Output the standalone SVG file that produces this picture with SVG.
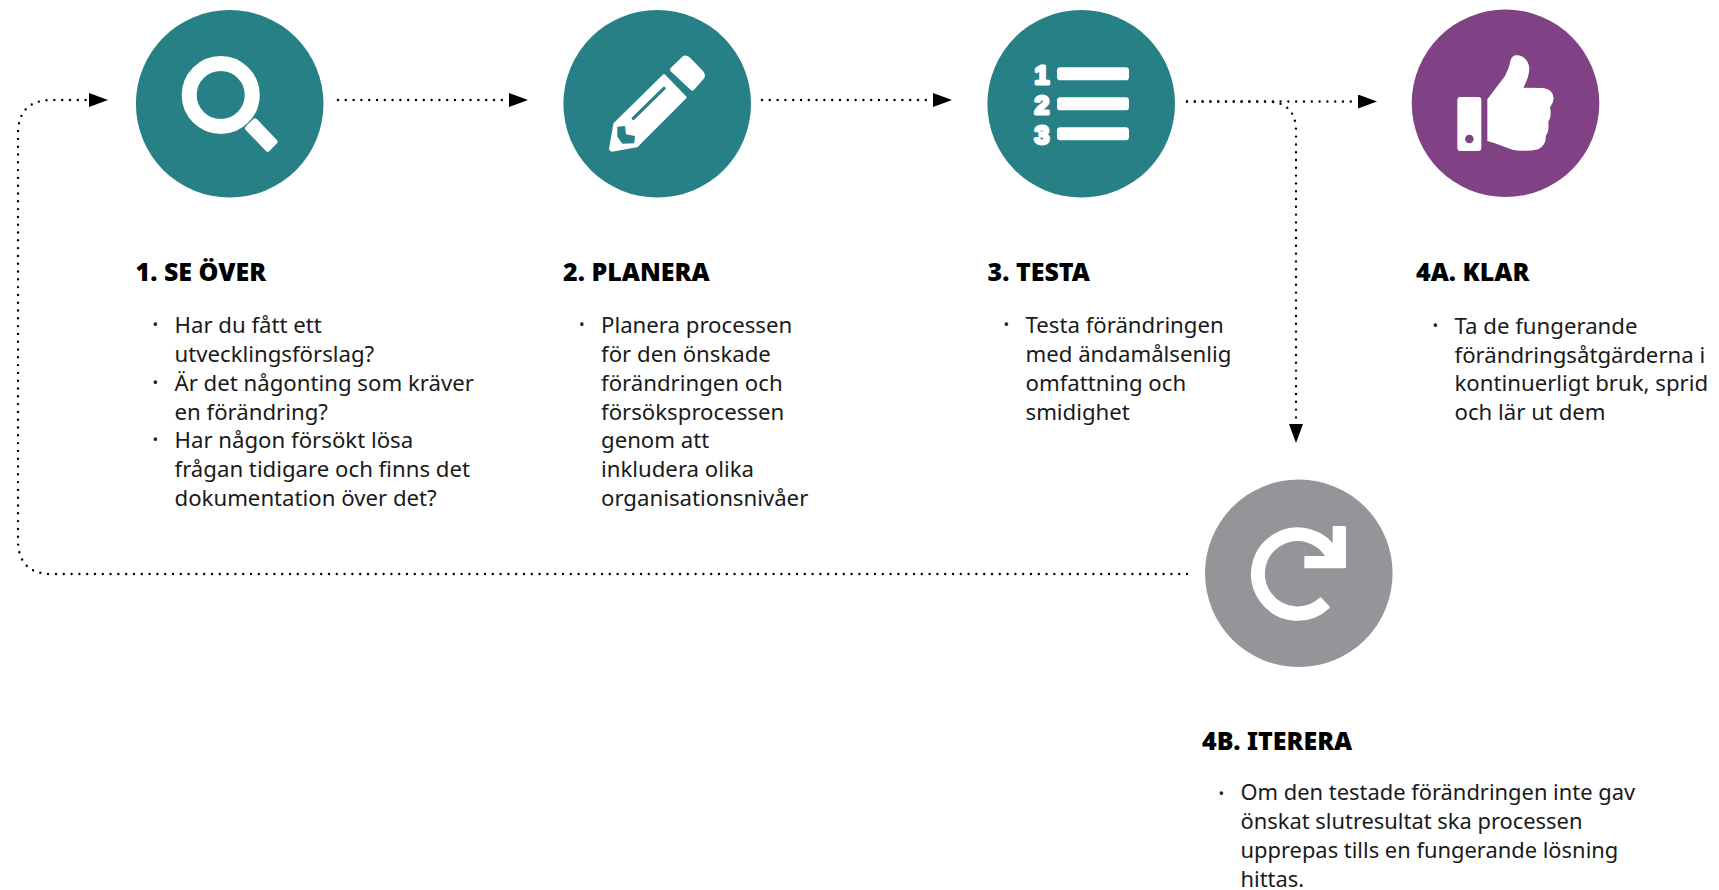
<svg xmlns="http://www.w3.org/2000/svg" width="1719" height="890" viewBox="0 0 1719 890">
<style>
.h{font:900 25px "Noto Sans","Open Sans",sans-serif;fill:#000}
.b{font:400 22.2px "Noto Sans","Open Sans",sans-serif;fill:#1a1a1a}
.s{font-size:21.9px}
.d{font:400 15px "Noto Sans",sans-serif;fill:#1a1a1a}
.c{fill:none;stroke:#000;stroke-width:2.4;stroke-linecap:round;stroke-dasharray:0 7.8}
.w{fill:#fff}
.n{fill:#fff;stroke:#fff;stroke-width:9;stroke-linejoin:round;font-family:"Liberation Sans",sans-serif;font-weight:700;font-size:80px;text-anchor:middle}
.t{fill:#268085}.p{fill:#804185}.g{fill:#939598}
</style>
<defs>
<marker id="a" markerUnits="userSpaceOnUse" markerWidth="20" markerHeight="16" refX="0" refY="7" orient="auto"><path d="M0 0L19 7L0 14Z" fill="#000"/></marker>
</defs>
<rect width="1719" height="890" fill="#fff"/>
<g id="connectors">
<path class="c" marker-end="url(#a)" d="M338 100H509"/>
<path class="c" marker-end="url(#a)" d="M762 100H933"/>
<path class="c" marker-end="url(#a)" d="M1187 101.500H1358"/>
<path class="c" marker-end="url(#a)" d="M1187 101.500H1266Q1296 101.500 1296 131V424"/>
<path class="c" marker-end="url(#a)" d="M1187 574H52Q18 574 18 540V134Q18 100 52 100H89"/>
</g>
<g id="n1">
<circle class="t" cx="229.7" cy="103.8" r="93.8"/>
<circle cx="220.7" cy="95" r="31.5" fill="none" stroke="#fff" stroke-width="15"/>
<path class="w" stroke="#fff" stroke-width="5" stroke-linejoin="round" d="M247.5 128.3L255 120.8L275 141.7L267.7 149.2Z"/>
<text class="h" x="135.500" y="280.7">1. SE ÖVER</text>
<text class="d" x="152.500" y="330">•</text>
<text class="b" x="174.500" y="333.300">Har du fått ett</text>
<text class="b" x="174.500" y="362.100">utvecklingsförslag?</text>
<text class="d" x="152.500" y="388">•</text>
<text class="b" x="174.500" y="390.800">Är det någonting som kräver</text>
<text class="b" x="174.500" y="419.600">en förändring?</text>
<text class="d" x="152.500" y="445">•</text>
<text class="b" x="174.500" y="448.400">Har någon försökt lösa</text>
<text class="b" x="174.500" y="477.200">frågan tidigare och finns det</text>
<text class="b" x="174.500" y="506">dokumentation över det?</text>
</g>
<g id="n2">
<circle class="t" cx="657.200" cy="103.8" r="93.8"/>
<g transform="translate(540 0) scale(.33333)">
<path class="w" stroke="#fff" stroke-width="8" stroke-linejoin="round" d="M372 226L436 292L290 438L215 451L211 447L224 372Z"/>
<path class="w" stroke="#fff" stroke-width="14" stroke-linejoin="round" d="M397 209L432 175Q437 172 444 177L484 218Q490 225 486 232L457 265Z"/>
<path d="M280 355L372 265" stroke="#268085" stroke-width="10" stroke-linecap="round" fill="none"/>
<path class="t" d="M232 380L255 378L258 403L285 408L283 430L247 431L232 410Z"/>
</g>
<text class="h" x="563" y="280.7">2. PLANERA</text>
<text class="d" x="579" y="330">•</text>
<text class="b" x="601" y="333.300">Planera processen</text>
<text class="b" x="601" y="362.100">för den önskade</text>
<text class="b" x="601" y="390.800">förändringen och</text>
<text class="b" x="601" y="419.600">försöksprocessen</text>
<text class="b" x="601" y="448.400">genom att</text>
<text class="b" x="601" y="477.200">inkludera olika</text>
<text class="b" x="601" y="506">organisationsnivåer</text>
</g>
<g id="n3">
<circle class="t" cx="1081.200" cy="103.8" r="93.8"/>
<g transform="translate(960 0) scale(.33333)">
<rect class="w" x="291" y="202" width="216" height="39" rx="10"/>
<rect class="w" x="291" y="292" width="216" height="39" rx="10"/>
<rect class="w" x="291" y="382" width="216" height="39" rx="10"/>
<text class="n" x="246" y="251">1</text>
<text class="n" x="246" y="341">2</text>
<text class="n" x="246" y="432">3</text>
</g>
<text class="h" x="987.500" y="280.7">3. TESTA</text>
<text class="d" x="1003.500" y="330">•</text>
<text class="b" x="1025.500" y="333.300">Testa förändringen</text>
<text class="b" x="1025.500" y="362.100">med ändamålsenlig</text>
<text class="b" x="1025.500" y="390.800">omfattning och</text>
<text class="b" x="1025.500" y="419.600">smidighet</text>
</g>
<g id="n4a">
<circle class="p" cx="1505.500" cy="103.300" r="93.8"/>
<g transform="translate(1380 0) scale(.33333)">
<rect class="w" x="232" y="291" width="72" height="162" rx="9"/>
<circle class="p" cx="268" cy="417" r="13"/>
<path class="w" d="M322 298L375 228Q388 205 392 180Q397 163 415 166Q445 172 448 205Q448 230 430 263L490 264Q520 268 521 295Q520 310 510 322Q516 350 505 365Q508 395 497 408Q500 435 475 448Q440 456 400 450Q370 440 345 430L322 423Z"/>
</g>
<text class="h" x="1416" y="280.7">4A. KLAR</text>
<text class="d" x="1432.500" y="331">•</text>
<text class="b" x="1454.500" y="333.800">Ta de fungerande</text>
<text class="b" x="1454.500" y="362.600">förändringsåtgärderna i</text>
<text class="b" x="1454.500" y="391.300">kontinuerligt bruk, sprid</text>
<text class="b" x="1454.500" y="420.100">och lär ut dem</text>
</g>
<g id="n4b">
<circle class="g" cx="1298.800" cy="573.300" r="93.8"/>
<g transform="translate(1180 470) scale(.33333)">
<path class="w" stroke="#fff" stroke-width="6" stroke-linejoin="round" d="M422 385A101 101 0 1 1 444 268L476 252A137 137 0 1 0 447 412Z"/>
<path class="w" stroke="#fff" stroke-width="8" stroke-linejoin="round" d="M462 172H494V291H377V262H436L462 240Z"/>
</g>
<text class="h" x="1202" y="750">4B. ITERERA</text>
<text class="d" x="1218.500" y="799">•</text>
<text class="b s" x="1240.500" y="800">Om den testade förändringen inte gav</text>
<text class="b s" x="1240.500" y="828.900">önskat slutresultat ska processen</text>
<text class="b s" x="1240.500" y="857.800">upprepas tills en fungerande lösning</text>
<text class="b s" x="1240.500" y="886.700">hittas.</text>
</g>
</svg>
